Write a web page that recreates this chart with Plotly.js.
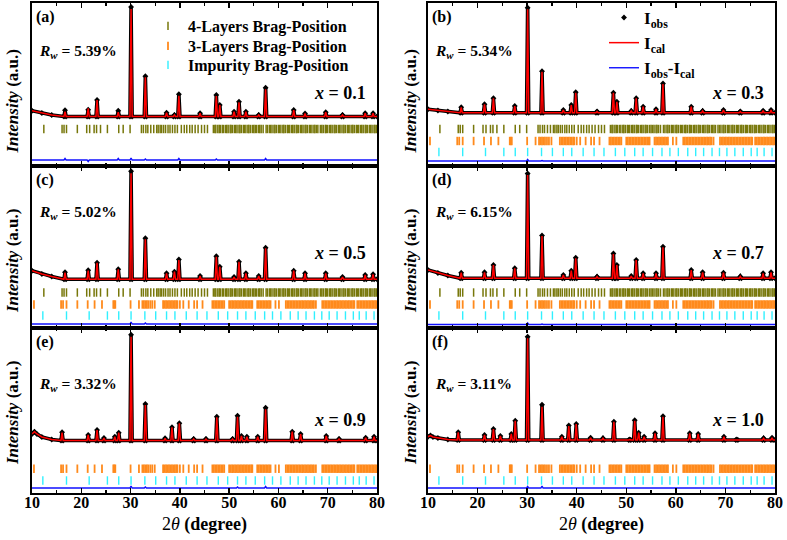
<!DOCTYPE html>
<html><head><meta charset="utf-8">
<script src="https://cdn.plot.ly/plotly-3.0.1.min.js"></script>
<style>html,body{margin:0;padding:0;background:#fff}#chart{width:787px;height:540px}</style>
</head><body><div id="chart"></div>
<script>
// ---------- DATA (2theta in degrees, intensity in arbitrary units) ----------
const panelLabels = ['(a)', '(b)', '(c)', '(d)', '(e)', '(f)'];
const rwValues = ['5.39%', '5.34%', '5.02%', '6.15%', '3.32%', '3.11%'];
const xValues = ['0.1', '0.3', '0.5', '0.7', '0.9', '1.0'];

// reflection positions seen in the profiles (x = 0.1 - 0.7)
const peakPosAD = [16.7, 21.4, 23.2, 27.5, 30.1, 33.0, 37.3, 38.9, 39.8, 44.1, 47.4, 48.1, 51.0, 52.0, 53.4, 56.0, 57.4, 63.1, 65.4, 69.6, 73.0, 77.6, 79.2];
const calA = [54.3, 57.7, 66.0, 53.7, 157.0, 88.7, 53.3, 51.0, 70.3, 52.7, 70.0, 61.0, 54.3, 63.7, 54.3, 51.0, 76.7, 56.0, 52.5, 53.7, 51.0, 52.7, 52.7];
const calB = [58.7, 61.7, 67.7, 60.0, 156.7, 94.3, 56.0, 61.0, 73.3, 54.5, 73.3, 64.3, 55.0, 67.7, 59.3, 56.7, 82.0, 59.3, 55.0, 56.0, 54.5, 55.3, 56.0];
const calC = [55.3, 57.3, 65.3, 58.7, 154.7, 88.7, 54.7, 56.3, 68.0, 52.0, 71.3, 61.3, 51.0, 66.3, 54.7, 52.0, 79.7, 57.3, 54.7, 54.7, 51.0, 53.0, 53.7];
const calD = [55.3, 55.7, 63.0, 59.7, 153.0, 92.0, 53.0, 57.3, 69.7, 51.3, 74.0, 63.0, 52.0, 68.0, 54.7, 54.7, 80.7, 58.0, 55.7, 55.3, 51.5, 54.7, 55.7];
const diffA = [1.5, -1.5, 0, 1.5, 2.0, 1.0, 0, 0, 1.5, 0, 1.0, 0, 0, 0.5, 0, 0, 1.5, 0, 0, 0, 0, 0, 0];
const diffB = [0, 0, 0, 0, 1.5, 0.5, 0, 0, 0.5, 0, 0, 0, 0, 0, 0, 0, 0.5, 0, 0, 0, 0, 0, 0];
const diffC = [0.5, 0.5, 0, 0, 2.0, 1.0, 0, 0, 0.5, 0, 0.5, 0, 0, 0, 0, 0, 0.5, 0, 0, 0, 0, 0, 0];
const diffD = [0, 0, 0, 0, 1.5, 0.5, 0, 0, 0.5, 0, 0.5, 0, 0, 0, 0, 0, 0.5, 0, 0, 0, 0, 0, 0];
const bgXAD = [10, 12, 14];
const bgA = [55.3, 53.0, 51.0];
const bgB = [56.7, 55.5, 54.5];
const bgC = [57.3, 54.0, 51.5];
const bgD = [58.0, 55.0, 52.5];
const baseAD = [49.5, 53.3, 48.7, 49.7];

// reflection positions seen in the profiles (x = 0.9 - 1.0)
const peakPosEF = [16.1, 21.4, 23.2, 24.6, 26.8, 27.6, 30.1, 33.0, 37.0, 38.4, 39.9, 42.8, 45.3, 47.5, 50.7, 51.7, 52.5, 53.6, 55.8, 57.4, 62.8, 64.5, 69.7, 72.3, 77.7, 79.4];
const calE = [60.3, 58.0, 63.0, 55.0, 56.3, 60.3, 156.3, 88.0, 54.7, 65.7, 69.7, 54.0, 54.0, 75.7, 54.0, 76.3, 57.0, 56.3, 56.3, 83.7, 61.3, 59.0, 57.0, 54.0, 55.3, 56.3];
const calF = [60.7, 58.0, 64.0, 57.0, 59.0, 72.3, 154.7, 86.3, 56.3, 67.0, 69.0, 55.3, 54.7, 71.3, 53.5, 72.3, 60.3, 56.3, 59.7, 76.3, 59.7, 59.0, 56.3, 53.5, 54.7, 55.3];
const diffE = [0.5, 0, 0, 0, 0, 0, 2.0, 1.0, 0, 0, 0, 0, 0, 0.5, 0, 1.0, 0, 0, 0, 1.5, 0, 0, 0, 0, 0, 0];
const diffF = [0, 0, 0, 0, 0, 0, 1.5, 2.0, 0, 0.5, 0, 0, 0, 0, 0, 0.5, 0, 0, 0, 0.5, 0, 0, 0, 0, 0, 0];
const bgXEF = [10, 10.5, 11, 12, 14];
const bgE = [59.0, 61.3, 59.0, 56.0, 53.5];
const bgF = [56.3, 57.5, 56.0, 55.0, 53.5];
const baseEF = [52.5, 53.0];

// Bragg reflection markers
const brag4L = [12.4, 16.1, 16.5, 17.0, 19.2, 21.1, 21.7, 22.6, 23.1, 23.9, 25.3, 27.6, 28.5, 29.9,
  32.2, 32.6, 33.1, 33.5, 34.1, 34.7, 35.3, 35.6, 36.0, 36.3, 36.7, 37.1, 37.6, 38.0, 38.5, 39.0, 39.5,
  40.3, 40.9, 41.4, 42.0, 42.5, 43.1, 43.7, 44.4, 45.0, 45.6,
  46.8, 47.1, 47.3, 47.7, 48.0, 48.2, 48.6, 48.9, 49.3, 49.5, 49.8, 50.2, 50.4, 50.7, 51.1, 51.3, 51.6, 52.0, 52.2, 52.5,
  52.9, 53.1, 53.4, 53.8, 54.0, 54.3, 54.7, 55.0, 55.3, 55.6, 56.0, 56.2, 56.5, 56.9, 57.5, 57.8, 58.2, 58.4,
  58.7, 59.1, 59.3, 59.6, 60.0, 60.2, 60.5, 60.9, 61.1, 61.4, 61.8, 62.0, 62.3, 62.7, 62.9, 63.2, 63.6,
  63.8, 64.1, 64.5, 64.7, 65.0, 65.4, 65.6, 65.9, 66.3, 66.5, 66.8, 67.2, 67.4, 67.7, 68.0, 68.5, 68.8, 69.1,
  69.5, 69.7, 70.0, 70.4, 70.6, 70.9, 71.3, 71.5, 71.8, 72.2, 72.4, 72.7, 73.1, 73.3, 73.6, 74.0, 74.2,
  74.5, 74.9, 75.1, 75.4, 75.8, 76.0, 76.3, 76.7, 76.9, 77.2, 77.6, 77.8, 78.1, 78.5, 78.7, 79.0, 79.4, 79.6, 79.9];
const brag3L = [10.4, 15.9, 16.3, 17.0, 19.2, 21.3, 22.7, 24.2, 26.5, 26.7, 26.9, 30.0, 31.7,
  32.4, 32.7, 33.0, 33.3, 33.6, 34.0, 34.4, 34.9, 36.6, 36.9, 37.2, 37.5, 37.8, 38.1, 38.4, 38.7, 39.0, 39.3,
  39.5, 40.0, 40.7, 41.8, 42.9, 43.5, 44.6, 46.6, 46.9, 47.2, 47.5, 47.8, 48.1, 48.4, 48.7, 49.0,
  50.0, 50.3, 50.6, 50.9, 51.2, 51.5, 51.8, 52.1, 52.4, 52.7, 53.0, 53.3, 53.6, 53.9, 54.2, 54.5, 54.7,
  55.7, 56.0, 56.3, 56.6, 56.9, 57.2, 57.5, 57.8, 58.1, 58.4, 59.4, 60.1,
  61.5, 61.8, 62.1, 62.4, 62.7, 63.0, 63.3, 63.6, 63.9, 64.2, 64.5, 64.8, 65.1, 65.4, 65.7, 66.0, 66.3,
  66.6, 66.9, 67.2, 67.6, 68.9, 69.2, 69.5, 69.8, 70.1, 70.4, 70.7, 71.0, 71.3, 71.6, 71.9, 72.2, 72.5,
  72.8, 73.1, 73.4, 73.7, 74.0, 74.3, 74.6, 74.9, 75.2, 75.4, 76.0, 76.3, 76.6, 76.9, 77.2, 77.5, 77.8,
  78.1, 78.4, 78.7, 79.0, 79.3, 79.6, 79.9];
const bragImp = [12.2, 17.0, 21.6, 25.3, 27.6, 30.1, 32.9, 35.1, 37.3, 39.0, 41.3, 43.5, 45.5, 47.8, 49.7,
  51.7, 53.4, 55.3, 57.2, 58.8, 60.5, 62.4, 64.0, 65.6, 67.3, 68.8, 70.3, 71.9, 73.6, 75.2, 76.4, 77.8, 79.4];

// ---------- LAYOUT CONSTANTS ----------
const W = 787, H = 540;
const colPx = [[32, 377], [428, 775]];
const rowPx = [[3, 166], [166, 328], [328, 493]];
const tickRowY = [{o: 37, r: 25, c: 14}, {o: 35.5, r: 23.5, c: 12.5}, {o: 37, r: 24.3, c: 12.5}];
const diffOffset = [6, 5, 4, 3.5, 5, 5];
const rwOff = [48, 47, 56];
const xvOff = [90, 87, 92];
const yTitleY = [101.5, 261, 413];
const yTitleX = [12, 410];
const HW = 0.22;
const FONT = 'Liberation Serif, Times New Roman, serif';

const panels = [
  {pos: peakPosAD, cal: calA, diff: diffA, bgX: bgXAD, bg: bgA, base: baseAD[0], phases: ['o']},
  {pos: peakPosAD, cal: calB, diff: diffB, bgX: bgXAD, bg: bgB, base: baseAD[1], phases: ['o', 'r', 'c']},
  {pos: peakPosAD, cal: calC, diff: diffC, bgX: bgXAD, bg: bgC, base: baseAD[2], phases: ['o', 'r', 'c']},
  {pos: peakPosAD, cal: calD, diff: diffD, bgX: bgXAD, bg: bgD, base: baseAD[3], phases: ['o', 'r', 'c']},
  {pos: peakPosEF, cal: calE, diff: diffE, bgX: bgXEF, bg: bgE, base: baseEF[0], phases: ['r', 'c']},
  {pos: peakPosEF, cal: calF, diff: diffF, bgX: bgXEF, bg: bgF, base: baseEF[1], phases: ['r', 'c']}
];

function buildProfile(p, which) {
  const pts = [];
  p.bgX.forEach((x, i) => pts.push([x, which === 'diff' ? 0 : p.bg[i]]));
  p.pos.forEach((x, i) => {
    const b = which === 'diff' ? 0 : p.base;
    let top = p.cal[i];
    if (which === 'obs') top = p.cal[i] + p.diff[i];
    if (which === 'diff') top = p.diff[i];
    pts.push([x - HW, b], [x, top], [x + HW, b]);
  });
  pts.push([80, which === 'diff' ? 0 : p.base]);
  pts.sort((a, b) => a[0] - b[0]);
  return {x: pts.map(q => q[0]), y: pts.map(q => q[1])};
}

// legend id for each phase entry (one legend per entry for exact placement)
const phaseInfo = {
  o: {list: brag4L, color: '#77770a', name: '4-Layers Brag-Position', width: 1.5, legend: 'legend'},
  r: {list: brag3L, color: '#ff8a1c', name: '3-Layers Brag-Position', width: 1.8, legend: 'legend3'},
  c: {list: bragImp, color: '#30f0ff', name: 'Impurity Brag-Position', width: 1.4, legend: 'legend4'}
};

const traces = [];
const layout = {
  width: W, height: H, margin: {l: 0, r: 0, t: 0, b: 0},
  paper_bgcolor: '#fff', plot_bgcolor: '#fff', showlegend: true,
  font: {family: FONT, color: '#000'},
  annotations: [], hovermode: false
};

panels.forEach((p, k) => {
  const col = k % 2, row = Math.floor(k / 2);
  const n = k + 1;
  const xa = 'x' + (n === 1 ? '' : n), ya = 'y' + (n === 1 ? '' : n);
  const xKey = 'xaxis' + (n === 1 ? '' : n), yKey = 'yaxis' + (n === 1 ? '' : n);
  const top = rowPx[row][0], bot = rowPx[row][1];
  layout[xKey] = {
    domain: [colPx[col][0] / W, colPx[col][1] / W], anchor: ya, range: [10, 80],
    showline: true, linecolor: '#000', linewidth: 2, mirror: 'allticks',
    ticks: 'inside', ticklen: 5, tickwidth: 1.5, tickcolor: '#000', tick0: 10, dtick: 10,
    minor: {dtick: 5, ticks: 'inside', ticklen: 3, tickwidth: 1.2, tickcolor: '#000'},
    showgrid: false, zeroline: false, showticklabels: row === 2, ticklabelstandoff: -6,
    tickfont: {family: FONT, size: 16, weight: 'bold', color: '#000'}, fixedrange: true
  };
  layout[yKey] = {
    domain: [1 - bot / H, 1 - top / H], anchor: xa, range: [0, bot - top],
    showline: true, linecolor: '#000', linewidth: 2, mirror: true, ticks: '',
    showticklabels: false, showgrid: false, zeroline: false, fixedrange: true
  };

  // Bragg tick rows
  p.phases.forEach(ph => {
    const info = phaseInfo[ph];
    const legendOn = (k === 0 && ph === 'o') || (k === 1 && ph !== 'o');
    traces.push({
      type: 'scatter', mode: 'markers', xaxis: xa, yaxis: ya,
      x: info.list, y: info.list.map(() => tickRowY[row][ph]),
      marker: {symbol: 'line-ns', size: 6, color: info.color, line: {color: info.color, width: info.width}},
      name: info.name, showlegend: legendOn, legend: info.legend
    });
  });

  const dprof = buildProfile(p, 'diff');
  traces.push({
    type: 'scatter', mode: 'lines', xaxis: xa, yaxis: ya,
    x: dprof.x, y: dprof.y.map(v => v + diffOffset[k]),
    line: {color: '#1010ff', width: 1.4}, name: 'I<sub>obs</sub>-I<sub>cal</sub>',
    showlegend: k === 1, legend: 'legend2', legendrank: 3
  });
  const oprof = buildProfile(p, 'obs');
  traces.push({
    type: 'scatter', mode: 'lines', xaxis: xa, yaxis: ya, x: oprof.x, y: oprof.y,
    line: {color: '#000', width: 3.6}, showlegend: false, name: 'obs'
  });
  traces.push({
    type: 'scatter', mode: 'markers', xaxis: xa, yaxis: ya, x: oprof.x, y: oprof.y,
    marker: {symbol: 'diamond', size: 4.5, color: '#000'}, name: 'I<sub>obs</sub>',
    showlegend: k === 1, legend: 'legend2', legendrank: 1
  });
  const cprof = buildProfile(p, 'cal');
  traces.push({
    type: 'scatter', mode: 'lines', xaxis: xa, yaxis: ya, x: cprof.x, y: cprof.y,
    line: {color: '#ff0000', width: 1.5}, name: 'I<sub>cal</sub>',
    showlegend: k === 1, legend: 'legend2', legendrank: 2
  });

  // annotations
  const L = colPx[col][0], R = colPx[col][1];
  layout.annotations.push({
    xref: 'paper', yref: 'paper', x: (L + 2) / W, y: 1 - (top + 3) / H, xanchor: 'left', yanchor: 'top',
    text: panelLabels[k], showarrow: false, font: {family: FONT, size: 16, weight: 'bold'}
  });
  layout.annotations.push({
    xref: 'paper', yref: 'paper', x: (L + 5) / W, y: 1 - (top + rwOff[row]) / H, xanchor: 'left', yanchor: 'middle',
    text: '<i>R</i><sub><i>w</i></sub> = ' + rwValues[k], showarrow: false, font: {family: FONT, size: 15.5, weight: 'bold'}
  });
  layout.annotations.push({
    xref: 'paper', yref: 'paper', x: (R - 9) / W, y: 1 - (top + xvOff[row]) / H, xanchor: 'right', yanchor: 'middle',
    text: '<i>x</i> = ' + xValues[k], showarrow: false, font: {family: FONT, size: 18, weight: 'bold'}
  });
  layout.annotations.push({
    xref: 'paper', yref: 'paper', x: yTitleX[col] / W, y: 1 - yTitleY[row] / H, xanchor: 'center', yanchor: 'middle',
    textangle: -90, text: '<i>Intensity</i> (a.u.)', showarrow: false, font: {family: FONT, size: 17, weight: 'bold'}
  });
  if (row === 2) {
    layout.annotations.push({
      xref: 'paper', yref: 'paper', x: (L + R) / 2 / W, y: 1 - 524 / H, xanchor: 'center', yanchor: 'middle',
      text: '2<i>θ</i> <b>(degree)</b>', showarrow: false, font: {family: FONT, size: 18}
    });
  }
});

const legFont = {family: FONT, size: 16, weight: 'bold', color: '#000'};
const legBase = {xanchor: 'left', yanchor: 'top', bgcolor: 'rgba(0,0,0,0)', font: legFont, traceorder: 'normal'};
layout.legend = Object.assign({}, legBase, {x: 148 / W, y: 1 - 9 / H});
layout.legend3 = Object.assign({}, legBase, {x: 148 / W, y: 1 - 29 / H});
layout.legend4 = Object.assign({}, legBase, {x: 148 / W, y: 1 - 48 / H});
layout.legend2 = Object.assign({}, legBase, {x: 604 / W, y: 1 - 0 / H, tracegroupgap: 6,
  font: {family: FONT, size: 17, weight: 'bold', color: '#000'}});

Plotly.newPlot('chart', traces, layout, {staticPlot: true, displayModeBar: false});
</script>
</body></html>
